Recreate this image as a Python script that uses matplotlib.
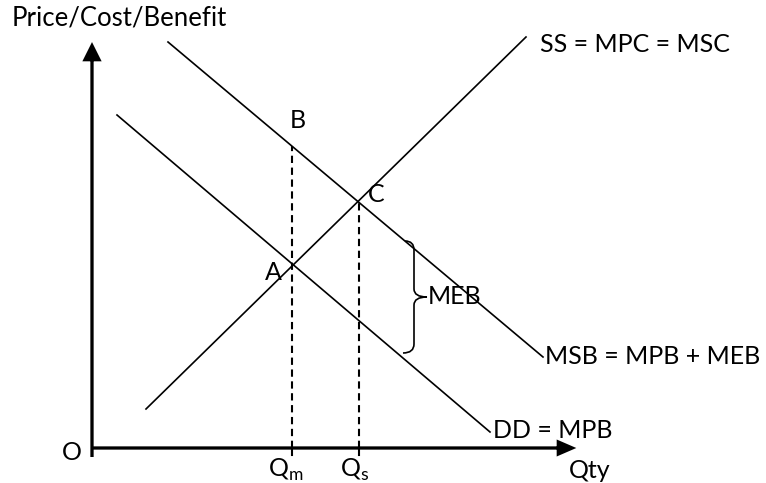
import numpy as np
import matplotlib
matplotlib.use("Agg")
import matplotlib.pyplot as plt
from matplotlib.path import Path
from matplotlib.patches import PathPatch

plt.rcParams['font.family'] = ['Lato', 'DejaVu Sans']
plt.rcParams['mathtext.fontset'] = 'custom'
plt.rcParams['mathtext.rm'] = 'Lato'

# curves (qty, price)
msb_q = [76, 451]
msb_p = [406, 91]
dd_q = [25, 398]
dd_p = [333, 16]
ss_q = [54, 434]
ss_p = [39, 411]

q_m = 200
q_s = 267

# brace for MEB
brace_q = 322
brace_top = 207
brace_bottom = 95

FS = 18

fig = plt.figure(figsize=(7.66, 4.83), dpi=100)
ax = fig.add_axes([0, 0, 1, 1])
ax.set_xlim(-92, 674)
ax.set_ylim(-35, 448)
ax.axis('off')

# axes with arrows
ax.arrow(0, -9, 0, 412, width=0, head_width=15, head_length=15,
         length_includes_head=True, color='black', lw=1.9)
ax.arrow(0, 0, 481, 0, width=0, head_width=13, head_length=15,
         length_includes_head=True, color='black', lw=1.9)

# curves
ax.plot(msb_q, msb_p, color='black', lw=1.2)
ax.plot(dd_q, dd_p, color='black', lw=1.2)
ax.plot(ss_q, ss_p, color='black', lw=1.2)

# dashed quantity lines
p_b = np.interp(q_m, msb_q, msb_p)
p_c = np.interp(q_s, msb_q, msb_p)
ax.plot([q_m, q_m], [0, p_b], color='black', lw=1.5, ls=(0, (3.5, 2.2)))
ax.plot([q_s, q_s], [0, p_c], color='black', lw=1.5, ls=(0, (3.5, 2.2)))
ax.plot([q_m, q_m], [0, -7], color='black', lw=1.5)
ax.plot([q_s, q_s], [0, -7], color='black', lw=1.5)

# brace
mid = (brace_top + brace_bottom) / 2
verts = [
    (brace_q - 9, brace_top),
    (brace_q, brace_top), (brace_q, brace_top - 9),
    (brace_q, mid + 8),
    (brace_q, mid), (brace_q + 13, mid),
    (brace_q, mid), (brace_q, mid - 8),
    (brace_q, brace_bottom + 9),
    (brace_q, brace_bottom), (brace_q - 11, brace_bottom),
]
codes = [Path.MOVETO,
         Path.CURVE3, Path.CURVE3,
         Path.LINETO,
         Path.CURVE3, Path.CURVE3,
         Path.CURVE3, Path.CURVE3,
         Path.LINETO,
         Path.CURVE3, Path.CURVE3]
ax.add_patch(PathPatch(Path(verts, codes), fill=False, lw=1.2, color='black'))

# labels
ax.text(-80, 430, 'Price/Cost/Benefit', fontsize=18.5, va='center', ha='left')
ax.text(-20, -5, 'O', fontsize=FS, va='center', ha='center')
ax.text(q_m - 6, -22, r'Q$_{\mathrm{m}}$', fontsize=FS, va='center', ha='center')
ax.text(q_s - 4, -22, r'Q$_{\mathrm{s}}$', fontsize=FS, va='center', ha='center')
ax.text(498, -22, 'Qty', fontsize=FS, va='center', ha='center')
ax.text(401, 17, 'DD = MPB', fontsize=FS, va='center', ha='left')
ax.text(453, 91, 'MSB = MPB + MEB', fontsize=FS, va='center', ha='left')
ax.text(448, 403, 'SS = MPC = MSC', fontsize=FS, va='center', ha='left')
ax.text(206, 328, 'B', fontsize=FS, va='center', ha='center')
ax.text(181, 176, 'A', fontsize=FS, va='center', ha='center')
ax.text(284, 253, 'C', fontsize=FS, va='center', ha='center')
ax.text(brace_q + 14, mid, 'MEB', fontsize=FS, va='center', ha='left')

fig.savefig('out.png', dpi=100)
